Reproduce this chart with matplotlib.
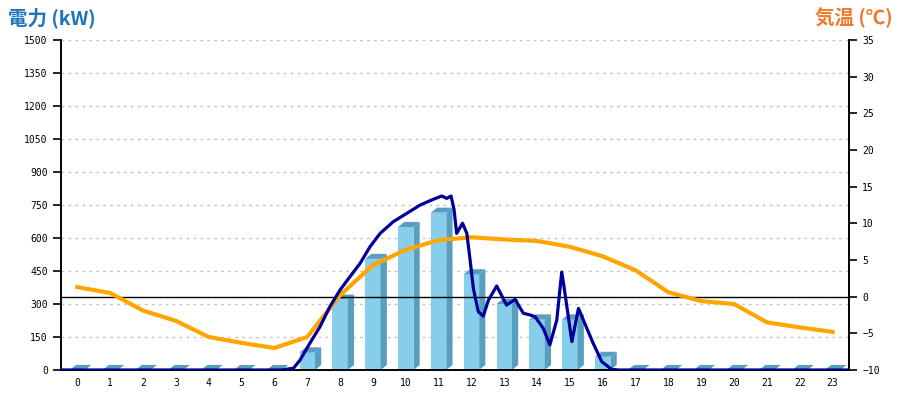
import matplotlib
matplotlib.use("Agg")
from matplotlib import pyplot as plt
from matplotlib.patches import Polygon

# hourly generation bars (kW)
hours = list(range(24))
bar_kw = [0, 0, 0, 0, 0, 0, 0, 80, 320, 505, 650, 715, 435, 300, 230, 230, 60,
          0, 0, 0, 0, 0, 0, 0]

# temperature (deg C) per hour
temp_c = [1.3, 0.5, -1.9, -3.3, -5.5, -6.3, -7.0, -5.5, 0.2, 4.3, 6.4, 7.7, 8.1,
          7.8, 7.6, 6.8, 5.5, 3.6, 0.6, -0.6, -1.0, -3.5, -4.2, -4.8]

# instantaneous power trace (hour, kW)
pw_h = [-0.45, 6.2, 6.58, 6.78, 7.08, 7.39, 7.69, 8.0, 8.3, 8.61, 8.91, 9.22,
        9.62, 10.03, 10.44, 10.84, 11.1, 11.25, 11.38, 11.47, 11.55, 11.73,
        11.86, 11.96, 12.06, 12.21, 12.36, 12.52, 12.77, 13.07, 13.33, 13.58,
        13.79, 13.94, 14.19, 14.39, 14.6, 14.75, 14.82, 15.06, 15.26, 15.41,
        15.71, 15.97, 16.27, 16.5, 23.45]
pw_kw = [0, 0, 8, 45, 122, 197, 288, 364, 424, 485, 560, 621,
         674, 712, 750, 776, 791, 780, 791, 730, 621, 667,
         621, 500, 370, 265, 245, 318, 382, 295, 321, 258,
         250, 242, 189, 114, 227, 445, 379, 129, 280, 227,
         121, 38, 3, 0, 0]

fig = plt.figure(figsize=(9, 4), dpi=100)
ax1 = fig.add_axes([61/900, 30/400, 788/900, 330/400])
ax2 = ax1.twinx()

ax1.set_xlim(-0.5, 23.5)
ax1.set_ylim(0, 1500)
ax2.set_ylim(-10, 35)

front = '#87CEEB'
dark = '#5A9EBF'
w = 0.47
dx = 0.19
dy = 23
for x, v in zip(hours, bar_kw):
    if v > 0:
        ax1.bar(x, v, width=w, color=front, zorder=2)
        side = [(x + w/2, 0), (x + w/2 + dx, dy), (x + w/2 + dx, v + dy), (x + w/2, v)]
        ax1.add_patch(Polygon(side, closed=True, color=dark, lw=0, zorder=2))
    top = [(x - w/2, v), (x + w/2, v), (x + w/2 + dx, v + dy), (x - w/2 + dx, v + dy)]
    ax1.add_patch(Polygon(top, closed=True, color=dark, lw=0, zorder=2))

ax1.set_yticks(range(0, 1501, 150))
ax1.yaxis.grid(True, color='#C4C4C4', linestyle=(0, (2, 3)), lw=1)
ax1.set_axisbelow(True)
ax1.set_xticks(hours)

ax2.axhline(0, color='black', lw=1, zorder=3)
ax2.plot(hours, temp_c, color='#FFA500', lw=3, zorder=4)
ax2.plot(pw_h, pw_kw, color='#000099', lw=2.3, zorder=5, transform=ax1.transData,
         solid_joinstyle='round')
ax2.set_yticks(range(-10, 36, 5))
ax2.set_ylim(-10, 35)

for ax in (ax1, ax2):
    ax.spines['top'].set_visible(False)
    for s in ('left', 'right', 'bottom'):
        ax.spines[s].set_linewidth(1.2)
    ax.tick_params(labelsize=7, width=1.2, length=6)
    for lab in ax.get_yticklabels() + ax.get_xticklabels():
        lab.set_family('DejaVu Sans Mono')
ax1.tick_params(axis='x', length=0, pad=6)

fig.text(8/900, 0.955, '電力 (kW)', color='#1F74C0', fontsize=14, fontweight='bold',
         family=['Noto Sans CJK JP', 'DejaVu Sans'], va='center', ha='left')
fig.text(893/900, 0.955, '気温 (℃)', color='#EE7A2A', fontsize=14, fontweight='bold',
         family=['Noto Sans CJK JP', 'DejaVu Sans'], va='center', ha='right')

fig.savefig('out.png', dpi=100)
